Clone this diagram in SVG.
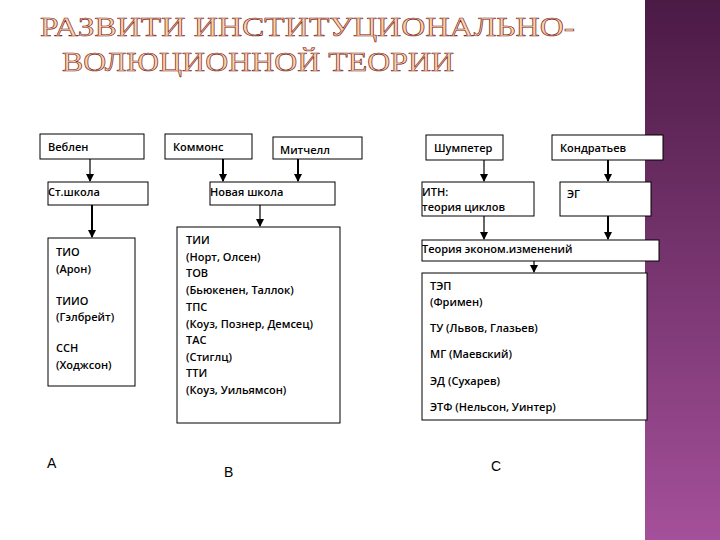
<svg xmlns="http://www.w3.org/2000/svg" width="720" height="540" viewBox="0 0 720 540">
<defs>
<linearGradient id="pg" x1="0" y1="0" x2="0" y2="1"><stop offset="0" stop-color="#4b1a45"/><stop offset="1" stop-color="#a4509a"/></linearGradient>
<marker id="ah" markerWidth="8" markerHeight="8" refX="7" refY="4" orient="auto" markerUnits="userSpaceOnUse"><path d="M0,0 L8,4 L0,8 z" fill="#000"/></marker>
<style>
.b{fill:#fff;stroke:#000;stroke-width:1}
.t{font-family:"Open Sans","Liberation Sans",sans-serif;font-size:11px;fill:#000;font-weight:600}
.c line{stroke:#000;stroke-width:1.2;marker-end:url(#ah)}
.h{font-family:"Liberation Serif",serif;font-size:27px;fill:#fbd3a8;stroke:#7a2020;stroke-width:0.6}
.L{font-family:"Liberation Sans",sans-serif;font-size:14px;fill:#000}
</style>
</defs>
<rect width="720" height="540" fill="#fff"/>
<rect x="645" y="0" width="75" height="540" fill="url(#pg)"/>
<g id="title">
<text class="h" x="40" y="36" textLength="535" lengthAdjust="spacingAndGlyphs">РАЗВИТИ   ИНСТИТУЦИОНАЛЬНО-</text>
<text class="h" x="62" y="71" textLength="392" lengthAdjust="spacingAndGlyphs">ВОЛЮЦИОННОЙ ТЕОРИИ</text>
</g>
<g id="connectors" class="c">
<line x1="90" y1="159" x2="90" y2="181"/>
<line x1="92" y1="205" x2="92" y2="237" style="stroke-width:2"/>
<line x1="223" y1="159" x2="223" y2="181" style="stroke-width:2"/>
<line x1="298" y1="159" x2="298" y2="181" style="stroke-width:2"/>
<line x1="260" y1="205" x2="260" y2="226"/>
<line x1="484" y1="160" x2="484" y2="181"/>
<line x1="608" y1="160" x2="608" y2="181" style="stroke-width:2"/>
<line x1="484" y1="216" x2="484" y2="239"/>
<line x1="608" y1="216" x2="608" y2="239" style="stroke-width:2"/>
<line x1="534" y1="261" x2="534" y2="272"/>
</g>
<g id="veblen"><rect class="b" x="40" y="134" width="104" height="25"/><text class="t" x="48" y="151">Веблен</text></g>
<g id="commons"><rect class="b" x="165" y="134" width="87" height="25"/><text class="t" x="173" y="151">Коммонс</text></g>
<g id="mitchell"><rect class="b" x="273" y="137" width="89" height="22"/><text class="t" x="280" y="154">Митчелл</text></g>
<g id="oldschool"><rect class="b" x="48" y="182" width="100" height="23"/><text class="t" x="48" y="196">Ст.школа</text></g>
<g id="newschool"><rect class="b" x="210" y="182" width="125" height="23"/><text class="t" x="210" y="196">Новая школа</text></g>
<g id="tio"><rect class="b" x="48" y="238" width="87" height="148"/>
<text class="t" x="56" y="256">ТИО</text><text class="t" x="56" y="273">(Арон)</text>
<text class="t" x="56" y="305">ТИИО</text><text class="t" x="56" y="321">(Гэлбрейт)</text>
<text class="t" x="56" y="352">ССН</text><text class="t" x="56" y="369">(Ходжсон)</text></g>
<g id="tii"><rect class="b" x="177" y="227" width="163" height="196"/>
<text class="t" x="186" y="244">ТИИ</text><text class="t" x="186" y="261">(Норт, Олсен)</text>
<text class="t" x="186" y="277">ТОВ</text><text class="t" x="186" y="294">(Бьюкенен, Таллок)</text>
<text class="t" x="186" y="311">ТПС</text><text class="t" x="186" y="328">(Коуз, Познер, Демсец)</text>
<text class="t" x="186" y="344">ТАС</text><text class="t" x="186" y="361">(Стиглц)</text>
<text class="t" x="186" y="377">ТТИ</text><text class="t" x="186" y="394">(Коуз, Уильямсон)</text></g>
<g id="schumpeter"><rect class="b" x="426" y="135" width="77" height="25"/><text class="t" x="434" y="152">Шумпетер</text></g>
<g id="kondratiev"><rect class="b" x="552" y="135" width="111" height="25"/><text class="t" x="560" y="152">Кондратьев</text></g>
<g id="itn"><rect class="b" x="422" y="182" width="112" height="34"/><text class="t" x="422" y="196">ИТН:</text><text class="t" x="422" y="211">теория циклов</text></g>
<g id="eg"><rect class="b" x="560" y="182" width="91" height="34"/><text class="t" x="567" y="198">ЭГ</text></g>
<g id="econ"><rect class="b" x="422" y="240" width="237" height="21"/><text class="t" x="422" y="253">Теория эконом.изменений</text></g>
<g id="tep"><rect class="b" x="422" y="273" width="225" height="147"/>
<text class="t" x="430" y="290">ТЭП</text><text class="t" x="430" y="306">(Фримен)</text>
<text class="t" x="430" y="332">ТУ (Львов, Глазьев)</text>
<text class="t" x="430" y="358">МГ (Маевский)</text>
<text class="t" x="430" y="385">ЭД (Сухарев)</text>
<text class="t" x="430" y="411">ЭТФ (Нельсон, Уинтер)</text></g>
<g id="labels"><text class="L" x="47" y="468">А</text><text class="L" x="224" y="477">В</text><text class="L" x="491" y="471">С</text></g>
</svg>
